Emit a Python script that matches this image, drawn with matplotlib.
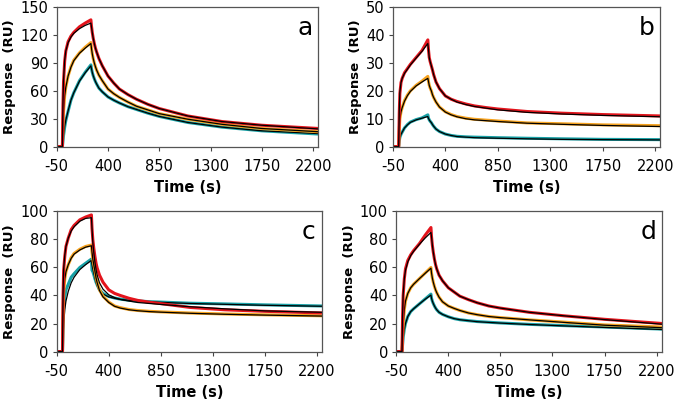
"""
SPR sensorgrams - four panels, measured curves with black fitted lines
"""

import matplotlib
matplotlib.use("Agg")
import matplotlib.pyplot as plt

# time grid (s) shared by all curves
time_s = [-50, 0, 5, 10, 20, 30, 50, 75, 100, 150, 200, 250,
          255, 262, 270, 280, 290, 300, 320, 350, 400, 450, 500, 575,
          650, 750, 850, 1100, 1400, 1750, 2250]

# panel a
a_red = [0, 0, 45, 70, 92, 103, 113, 119, 123, 129, 133, 136.5,
         130, 123, 117, 111, 106, 102, 95, 87, 76, 68.5, 62, 56,
         51, 45.5, 41, 33, 27, 23, 19.5]
a_red_fit = [0, 0, 48, 72, 93, 103, 112, 118, 122, 127, 130.5, 133,
             129, 123, 117, 111, 106, 102, 95, 87, 76, 68.5, 62, 56,
             51, 45.5, 41, 33, 27, 23, 19]
a_orange = [0, 0, 22, 38, 55, 64, 76, 86, 93, 101, 107, 112,
            106, 100, 95, 90, 86, 82.5, 77, 71, 62, 57, 53, 48,
            43.5, 39.5, 35.5, 29.5, 24, 19.5, 16]
a_orange_fit = [0, 0, 23, 39, 55, 64, 76, 85.5, 92.5, 100.5, 106, 111,
                106, 100, 95, 90, 86, 82.5, 77, 71, 62, 57, 53, 48,
                43.5, 39.5, 35.5, 29.5, 24, 19.5, 16]
a_cyan = [0, 0, 6, 12, 21, 28, 38, 50, 58, 71, 80, 88,
          84, 80, 76.5, 73, 70, 67.5, 63, 59, 53.5, 50, 47, 43,
          40, 36, 32.5, 26, 21, 17, 13.5]
a_cyan_fit = [0, 0, 7, 13, 22, 28.5, 38.5, 50, 58, 70.5, 79.5, 87,
              84, 80, 76.5, 73, 70, 67.5, 63, 59, 53.5, 50, 47, 43,
              40, 36, 32.5, 26, 21, 17, 14]

# panel b
b_red = [0, 0, 12, 19, 23, 24.5, 26.5, 28, 29.5, 32, 34.5, 38.3,
         35, 32, 30.5, 29, 27.5, 25.8, 23.2, 20.8, 18.2, 17, 16.2, 15.3,
         14.6, 14, 13.5, 12.6, 12, 11.5, 11]
b_red_fit = [0, 0, 13, 19.5, 23, 24.5, 26.3, 27.8, 29.3, 31.8, 34.2, 37,
             35, 32, 30.5, 29, 27.5, 25.8, 23.2, 20.8, 18.2, 17, 16, 15.1,
             14.4, 13.8, 13.2, 12.3, 11.7, 11.2, 10.7]
b_orange = [0, 0, 6, 10, 12.5, 14, 16.5, 18.5, 20, 22, 23.5, 25.2,
            23.5, 22, 21, 20, 18.6, 17.6, 16, 14.2, 12.5, 11.5, 10.8, 10.2,
            9.8, 9.5, 9.2, 8.5, 8.2, 7.8, 7.5]
b_orange_fit = [0, 0, 6.5, 10, 12.5, 14, 16.3, 18.3, 19.8, 21.8, 23.2, 24.5,
                23.5, 22, 21, 20, 18.6, 17.6, 16, 14.2, 12.4, 11.4, 10.7, 10,
                9.6, 9.3, 9, 8.4, 8, 7.6, 7.2]
b_cyan = [0, 0, 2, 3.3, 4.4, 5.2, 6.7, 7.9, 8.8, 9.7, 10.3, 11.4,
          10.3, 9.6, 9.1, 8.6, 7.9, 7.3, 6.3, 5.4, 4.5, 4, 3.7, 3.5,
          3.4, 3.3, 3.2, 3, 2.8, 2.6, 2.5]
b_cyan_fit = [0, 0, 2, 3.3, 4.4, 5.2, 6.7, 7.8, 8.7, 9.6, 10.2, 10.8,
              10.2, 9.6, 9.1, 8.6, 7.9, 7.3, 6.3, 5.4, 4.5, 4, 3.6, 3.4,
              3.2, 3.1, 3, 2.8, 2.6, 2.5, 2.4]

# panel c
c_red = [0, 0, 40, 58, 68, 75, 81, 87, 90, 94, 96, 97.5,
         88, 80, 74, 68, 63, 59.5, 54.5, 49.5, 44, 41.5, 40, 38,
         36.5, 35.2, 34.2, 31.5, 29.8, 28.7, 27.5]
c_red_fit = [0, 0, 42, 59, 69, 75, 81, 86, 89, 93, 95, 95.5,
             88, 78, 71, 64, 58.5, 54.5, 49, 44.5, 40.5, 38.5, 37.2, 36,
             35, 34.3, 33.6, 32, 30.5, 29, 28]
c_orange = [0, 0, 25, 42, 52, 57, 62, 67, 70, 73, 75, 76,
            71, 66, 62.5, 58, 53, 49.5, 44, 39.5, 35.3, 32.5, 31.3, 30,
            29.3, 28.7, 28.3, 27.5, 26.8, 26.2, 25.5]
c_orange_fit = [0, 0, 26, 42, 52, 57, 62, 66.5, 69.5, 72.5, 74.5, 75.5,
                71, 66, 62, 57.5, 52.5, 49, 43.5, 39, 35, 32.3, 31, 29.8,
                29.1, 28.5, 28.1, 27.3, 26.6, 26, 25.3]
c_cyan = [0, 0, 15, 30, 39, 44, 48, 53, 55.5, 60, 63, 66,
          58, 57, 55, 52, 49.5, 47.5, 44, 41.5, 39.3, 38.2, 37.4, 36.6,
          36.1, 35.6, 35.3, 34.5, 34, 33.3, 32.5]
c_cyan_fit = [0, 0, 10, 20, 30, 36, 43, 49, 53, 58.5, 62, 65,
              62, 59, 56, 52.5, 49.5, 47, 43.5, 41, 39, 38, 37.2, 36.5,
              36, 35.5, 35.1, 34.3, 33.7, 33, 32.3]

# panel d
d_red = [0, 0, 25, 40, 52, 59, 65, 69, 72, 77, 83, 88.5,
         82, 76, 71, 66, 62, 59, 54.5, 50.5, 45.5, 42.5, 39.5, 37,
         34.8, 32.5, 31, 28, 25.5, 23, 20]
d_red_fit = [0, 0, 27, 41, 52, 58, 64, 68.5, 71.5, 76.5, 81, 85,
             82, 76, 71, 66, 62, 59, 54.5, 50.5, 45.5, 42.5, 39.5, 37,
             34.8, 32.5, 31, 28, 25.5, 22.8, 19.5]
d_orange = [0, 0, 10, 20, 30, 36, 41.5, 45.5, 48, 52, 56, 60,
            56, 52.5, 49.5, 46.5, 44, 42, 38.8, 35.5, 32.5, 30.8, 29.3, 27.5,
            26.3, 25, 24.2, 22.6, 21, 19, 17.5]
d_orange_fit = [0, 0, 11, 20, 30, 36, 41.5, 45.5, 48, 52, 55.8, 59.5,
                56, 52.5, 49.5, 46.5, 44, 42, 38.8, 35.5, 32.5, 30.8, 29.3, 27.5,
                26.3, 25, 24.2, 22.6, 20.8, 18.8, 17]
d_cyan = [0, 0, 5, 10, 16, 20, 25, 28.5, 30.5, 34, 37.5, 41,
          38, 36, 34.3, 32.5, 31, 29.8, 28, 26.5, 24.8, 23.5, 22.7, 22,
          21.4, 20.9, 20.4, 19.4, 18.5, 17.5, 16]
d_cyan_fit = [0, 0, 5, 10, 16, 20, 25, 28.5, 30.5, 34, 37.3, 40.3,
              38, 36, 34.3, 32.5, 31, 29.8, 28, 26.5, 24.8, 23.5, 22.7, 22,
              21.3, 20.8, 20.3, 19.3, 18.3, 17.2, 15.7]

x_ticks = [-50, 400, 850, 1300, 1750, 2200]

RED = "#e3141c"
ORANGE = "#f6a21e"
CYAN = "#17a0a5"

plt.rcParams["font.family"] = ["DejaVu Sans"]
plt.rcParams["axes.unicode_minus"] = False

fig = plt.figure(figsize=(6.75, 4.05), dpi=100)

panels = [
    ("a", [0.084, 0.638, 0.387, 0.344], (a_red, a_red_fit, a_orange, a_orange_fit, a_cyan, a_cyan_fit), 150, 30),
    ("b", [0.582, 0.638, 0.396, 0.344], (b_red, b_red_fit, b_orange, b_orange_fit, b_cyan, b_cyan_fit), 50, 10),
    ("c", [0.084, 0.132, 0.393, 0.346], (c_red, c_red_fit, c_orange, c_orange_fit, c_cyan, c_cyan_fit), 100, 20),
    ("d", [0.587, 0.132, 0.393, 0.346], (d_red, d_red_fit, d_orange, d_orange_fit, d_cyan, d_cyan_fit), 100, 20),
]

for letter, rect, curves, ymax, ystep in panels:
    ax = fig.add_axes(rect)
    red, red_fit, orange, orange_fit, cyan, cyan_fit = curves
    for data, fit, col in [(cyan, cyan_fit, CYAN), (orange, orange_fit, ORANGE), (red, red_fit, RED)]:
        ax.plot(time_s, data, color=col, lw=2.2, solid_joinstyle="round")
        ax.plot(time_s, fit, color="black", lw=0.9)

    ax.set_xlim(-50, 2242)
    ax.set_ylim(0, ymax)
    ax.set_xticks(x_ticks)
    ax.set_yticks(list(range(0, ymax + 1, ystep)))
    ax.tick_params(labelsize=10.5, length=3, width=0.8, color="#444444")
    ax.tick_params(axis="x", pad=6)
    ax.tick_params(axis="y", pad=3)
    for sp in ax.spines.values():
        sp.set_color("#555555")
        sp.set_linewidth(0.9)
    ax.set_xlabel("Time (s)", fontsize=10.5, fontweight="bold", labelpad=4)
    ax.set_ylabel("Response  (RU)", fontsize=9.5, fontweight="bold", labelpad=3)
    ax.text(0.95, 0.85, letter, transform=ax.transAxes, fontsize=18,
            ha="center", va="center")

fig.savefig("out.png", dpi=100)
